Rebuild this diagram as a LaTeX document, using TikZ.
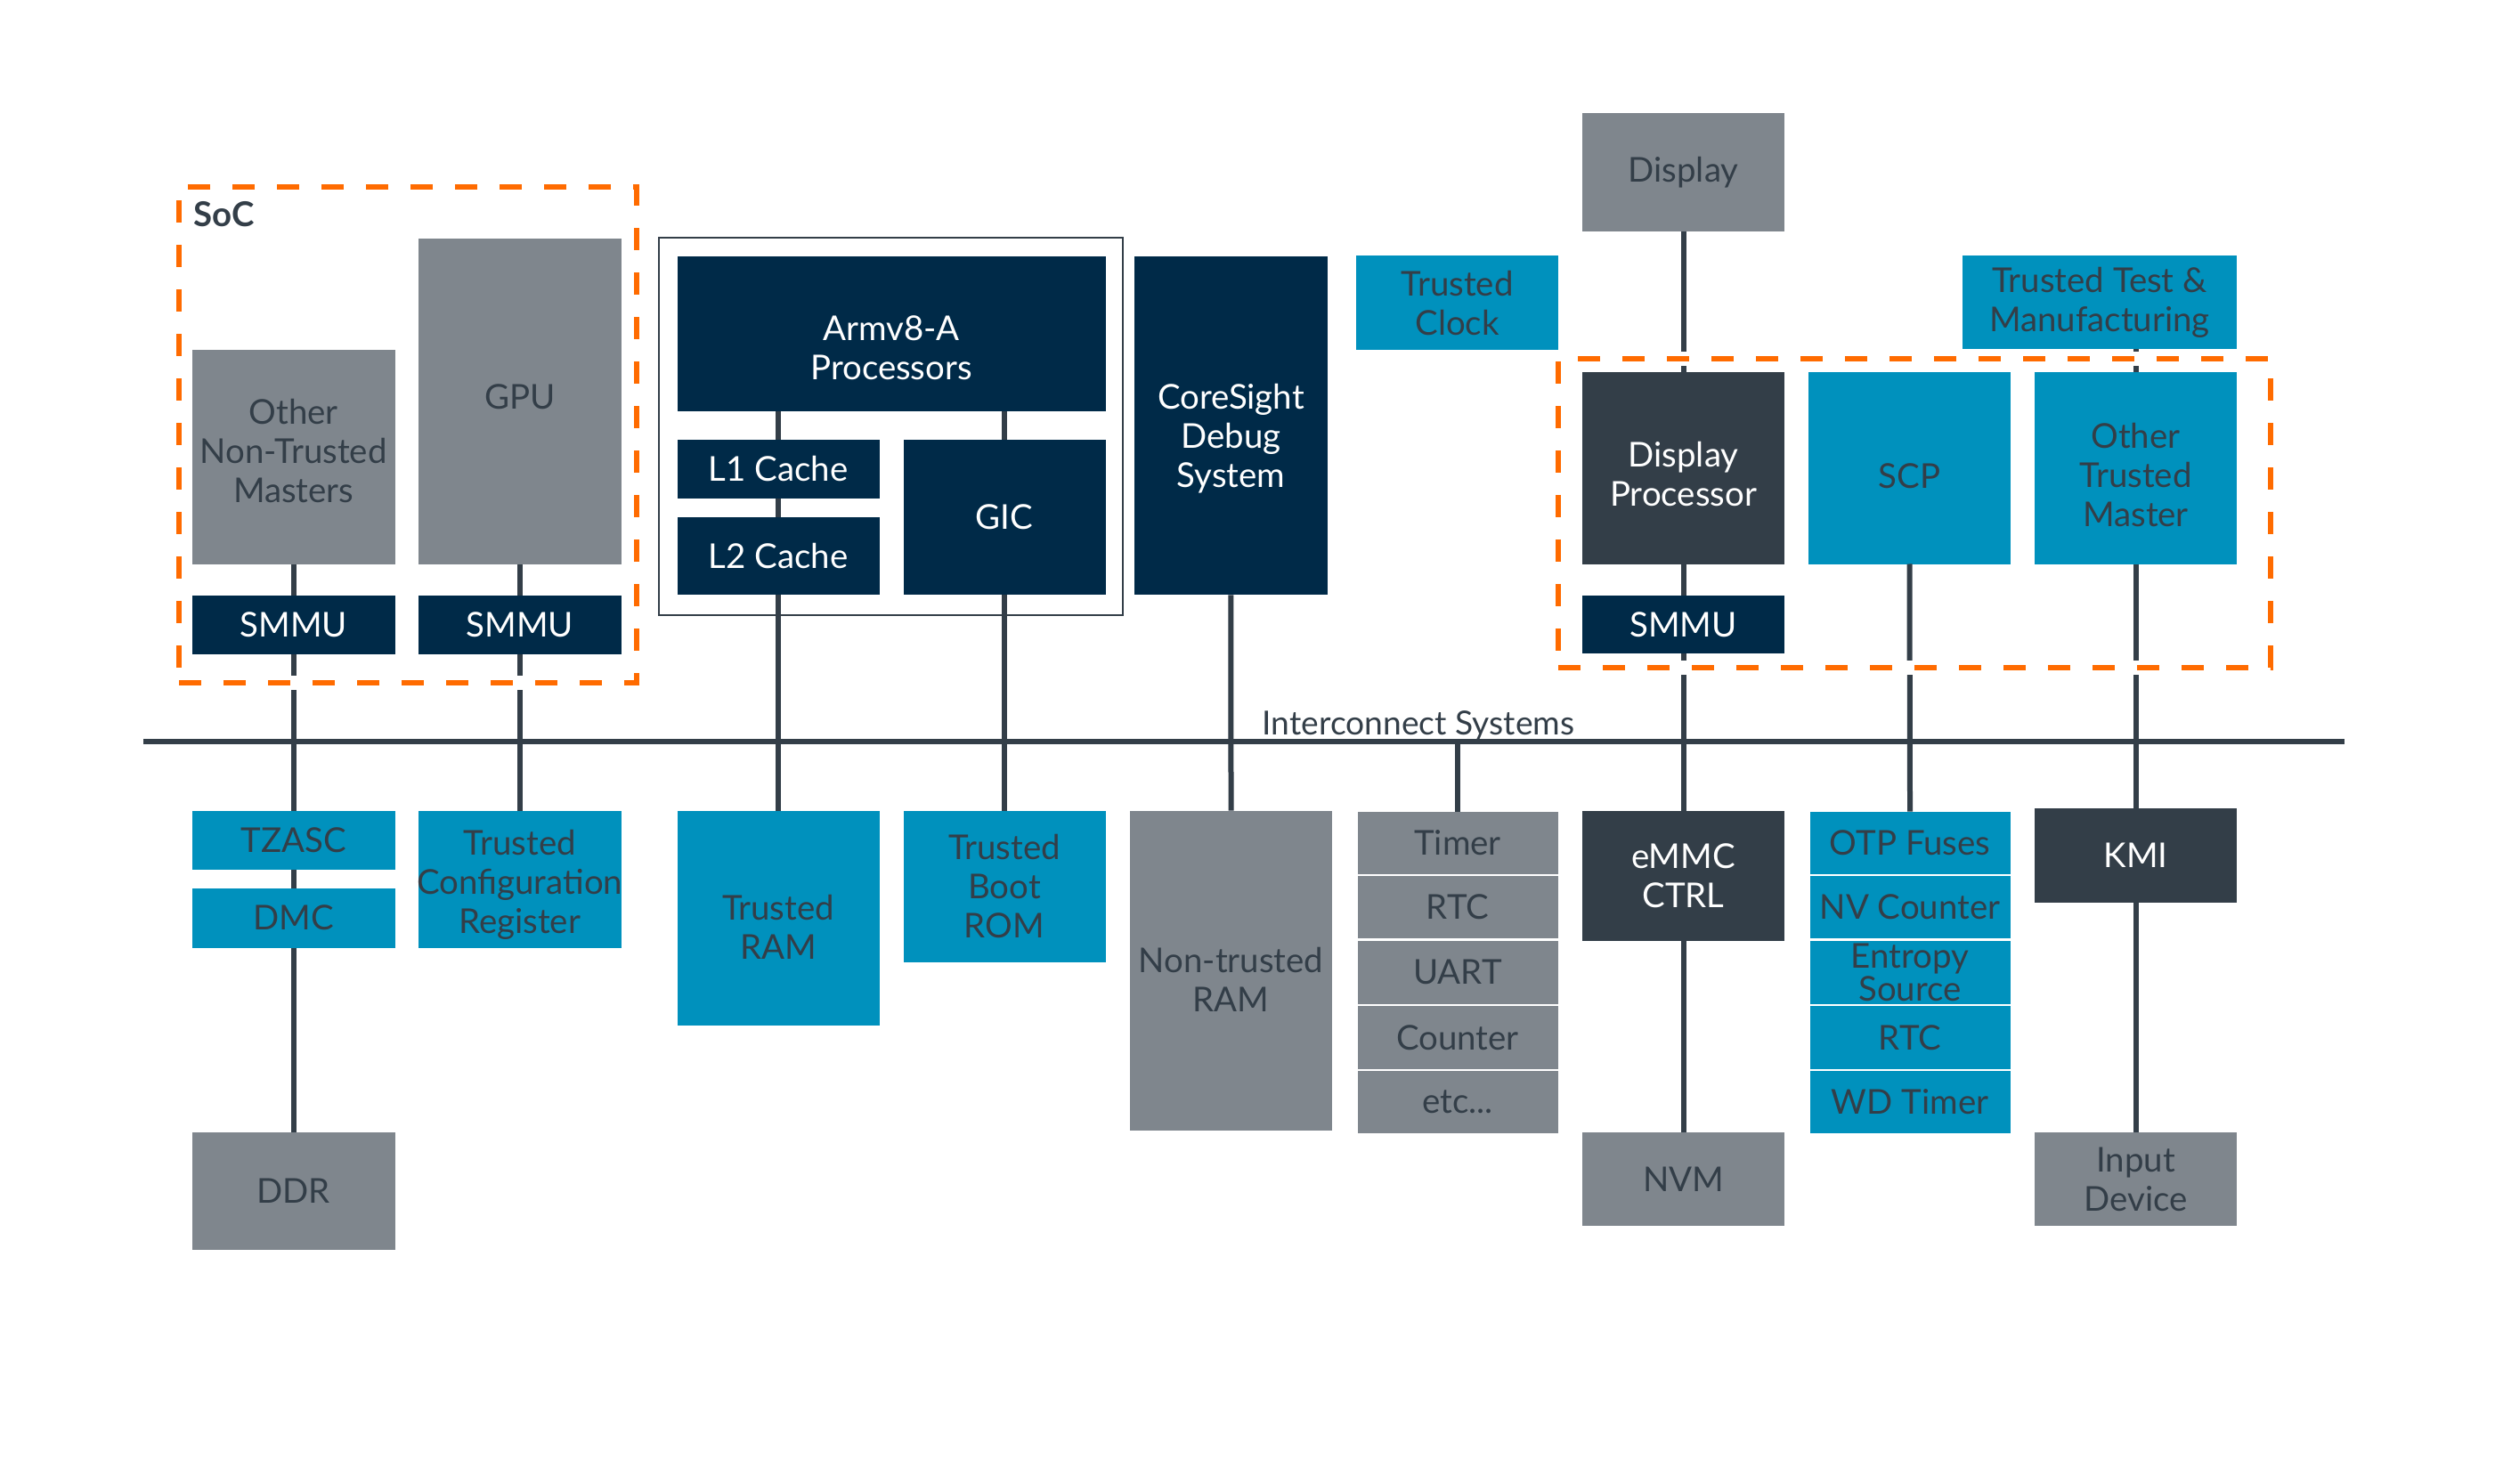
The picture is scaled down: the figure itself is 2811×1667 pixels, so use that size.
\documentclass[tikz,border=0pt]{standalone}
\usepackage{fontspec}
\setmainfont{Lato}
\usetikzlibrary{fit}
\definecolor{cgrey}{HTML}{7F868D}
\definecolor{cnavy}{HTML}{002A48}
\definecolor{cslate}{HTML}{333E48}
\definecolor{cteal}{HTML}{0091BD}
\definecolor{corange}{HTML}{FF6B00}
\tikzset{
  box/.style={inner sep=0pt, outer sep=0pt, align=center, font=\fontsize{9.6}{11}\selectfont},
  grey/.style={box, fill=cgrey, text=cslate},
  navy/.style={box, fill=cnavy, text=white},
  slate/.style={box, fill=cslate, text=white},
  teal/.style={box, fill=cteal, text=cslate},
  lbl/.style={inner sep=0pt, outer sep=0pt, align=center, fill=none},
  wire/.style={draw=cslate, line width=1.5pt},
  socline/.style={draw=corange, line width=1.5pt, dash pattern=on 6.25pt off 6.25pt,
     inner sep=0pt, outer sep=0pt,
     preaction={draw=white, line width=4pt, solid}},
}
% [#1] extra label options, #2 name, #3-#6 corners, #7 style, #8 text
\newcommand\bx[8][]{\node[#7, fit={(#3,#4) (#5,#6)}] (#2) {};
  \node[#7, lbl, #1] (#2t) at (#2.center) {#8};}
\begin{document}
\begin{tikzpicture}[x=0.25pt, y=-0.25pt]
\useasboundingbox (0,0) rectangle (2811,1667);
% bus
\coordinate (busL) at (161,833);
\coordinate (busR) at (2633,833);
\draw[wire] (busL) -- (busR);
\node[anchor=base west, inner sep=0pt, text=cslate, font=\fontsize{9.3}{11}\selectfont] (ics) at (1417,825) {Interconnect Systems};

% SoC left
\bx[yshift=1.8pt]{oth}{216}{393.5}{443.5}{634}{grey}{Other\\Non-Trusted\\Masters}
\bx[yshift=1.3pt]{gpu}{470}{267.6}{697.5}{634}{grey}{GPU}
\bx{smmuA}{216}{669}{443.5}{735}{navy}{SMMU}
\bx{smmuB}{470}{669}{697.5}{735}{navy}{SMMU}

% CPU cluster
\node[draw=cslate, line width=0.5pt, inner sep=0pt, fit={(740,267.3) (1260.6,691)}] (cpubox) {};
\bx[yshift=-4pt]{arm}{760.5}{287.7}{1241.5}{461.7}{navy}{Armv8-A\\Processors}
\bx{lone}{760.5}{494}{987.5}{560}{navy}{L1 Cache}
\bx{ltwo}{760.5}{581.3}{987.5}{668.3}{navy}{L2 Cache}
\bx{gic}{1014.5}{494}{1241.5}{668.3}{navy}{GIC}
\bx[yshift=-3.6pt]{cs}{1274}{287.7}{1490.7}{668.3}{navy}{CoreSight\\Debug\\System}

% top right
\bx{tclk}{1523}{287.5}{1750}{393.3}{teal}{Trusted\\Clock}
\bx{disp}{1777}{126.8}{2004}{260}{grey}{Display}
\bx{ttm}{2204}{287.5}{2512}{392.4}{teal}{Trusted Test \&\\Manufacturing}
\bx[yshift=-1.6pt]{dp}{1777}{418.5}{2004}{633.5}{slate}{Display\\Processor}
\bx[yshift=-2.2pt]{scp}{2031}{418.5}{2258}{633.5}{teal}{SCP}
\bx[yshift=-1.8pt]{otm}{2285}{418.5}{2512}{633.5}{teal}{Other\\Trusted\\Master}
\bx{smmuC}{1777}{668.75}{2004}{734.4}{navy}{SMMU}

% bottom row
\bx{tzasc}{216}{910.5}{443.5}{977}{teal}{TZASC}
\bx{dmc}{216}{997.6}{443.5}{1064.5}{teal}{DMC}
\bx{ddr}{216}{1272.4}{443.5}{1403.7}{grey}{DDR}
\bx[yshift=-1.6pt]{tcr}{470}{910.5}{697.5}{1064.5}{teal}{Trusted\\Configuration\\Register}
\bx[yshift=-2.5pt]{tram}{760.5}{910.5}{987.5}{1152}{teal}{Trusted\\RAM}
\bx{tbrom}{1014.5}{910.5}{1241.5}{1081}{teal}{Trusted\\Boot\\ROM}
\bx[yshift=-2.5pt]{ntram}{1269}{910.5}{1496}{1270}{grey}{Non-trusted\\RAM}

\bx{timer}{1524.5}{911.7}{1749.5}{982}{grey}{Timer}
\bx{rtcA}{1524.5}{984}{1749.5}{1054.4}{grey}{RTC}
\bx{uart}{1524.5}{1056.5}{1749.5}{1128}{grey}{UART}
\bx{cnt}{1524.5}{1130}{1749.5}{1201}{grey}{Counter}
\bx{etc}{1524.5}{1203}{1749.5}{1273}{grey}{etc...}

\bx{emmc}{1777}{910.5}{2004}{1057}{slate}{eMMC\\CTRL}
\bx{nvm}{1777}{1272.4}{2004}{1376.8}{grey}{NVM}

\bx{otp}{2032.5}{911.7}{2257.5}{982}{teal}{OTP Fuses}
\bx{nvc}{2032.5}{984}{2257.5}{1054.4}{teal}{NV Counter}
\bx{ent}{2032.5}{1056.5}{2257.5}{1128}{teal, font=\fontsize{9.6}{9.3}\selectfont}{Entropy\\Source}
\bx{rtcB}{2032.5}{1130}{2257.5}{1201}{teal}{RTC}
\bx{wdt}{2032.5}{1203}{2257.5}{1273}{teal}{WD Timer}

\bx{kmi}{2285}{908.4}{2512}{1013.6}{slate}{KMI}
\bx{inp}{2285}{1272.4}{2512}{1376.8}{grey}{Input\\Device}

% connectors
\draw[wire] (oth.south) -- (smmuA.north);
\draw[wire] (smmuA.south) -- (smmuA.south |- busL);
\draw[wire] (tzasc.north |- busL) -- (tzasc.north);
\draw[wire] (tzasc.south) -- (dmc.north);
\draw[wire] (dmc.south) -- (ddr.north);

\draw[wire] (gpu.south) -- (smmuB.north);
\draw[wire] (smmuB.south) -- (smmuB.south |- busL);
\draw[wire] (tcr.north |- busL) -- (tcr.north);

\draw[wire] (lone.north |- arm.south) -- (lone.north);
\draw[wire] (lone.south) -- (ltwo.north);
\draw[wire] (ltwo.south) -- (tram.north);

\draw[wire] (gic.north |- arm.south) -- (gic.north);
\draw[wire] (gic.south) -- (tbrom.north);

\draw[wire] (cs.south) -- (ntram.north);
\draw[wire] (timer.north |- busL) -- (timer.north);

\draw[wire] (disp.south) -- (dp.north);
\draw[wire] (dp.south) -- (smmuC.north);
\draw[wire] (smmuC.south) -- (emmc.north);
\draw[wire] (emmc.south) -- (nvm.north);

\draw[wire] (scp.south) -- (otp.north);

\draw[wire] (otm.north |- ttm.south) -- (otm.north);
\draw[wire] (otm.south) -- (kmi.north);
\draw[wire] (kmi.south) -- (inp.north);

% dashed trust boundaries
\node[socline, fit={(201,210) (715,767)}] (socA) {};
\node[anchor=base west, inner sep=0pt, text=cslate, font=\bfseries\fontsize{9.6}{11}\selectfont] (soclbl) at (217,254.6) {SoC};
\node[socline, fit={(1750,402.7) (2550,749.6)}] (socB) {};
\end{tikzpicture}
\end{document}
